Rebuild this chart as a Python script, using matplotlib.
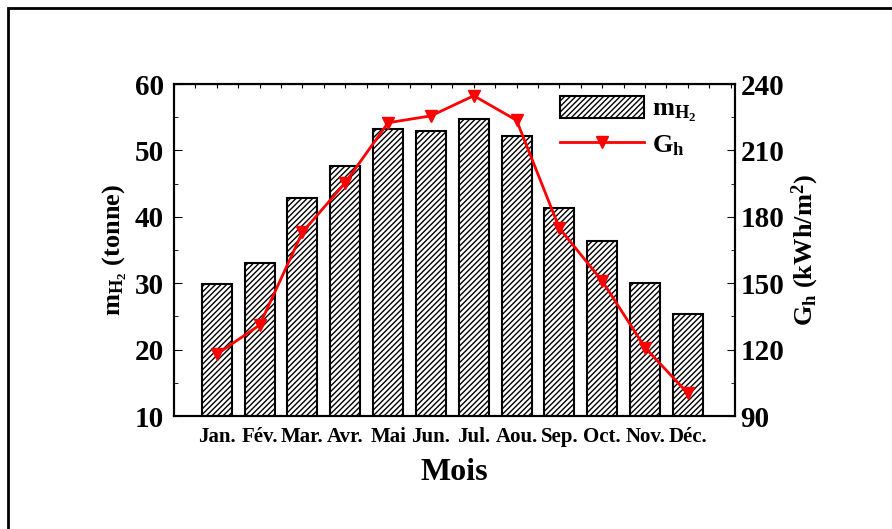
import matplotlib.pyplot as plt
from matplotlib.patches import Rectangle
from matplotlib.ticker import MultipleLocator

plt.rcParams['font.family'] = 'Liberation Serif'
plt.rcParams['font.weight'] = 'bold'
plt.rcParams['mathtext.fontset'] = 'custom'
plt.rcParams['mathtext.rm'] = 'Liberation Serif:bold'
plt.rcParams['mathtext.bf'] = 'Liberation Serif:bold'
plt.rcParams['mathtext.it'] = 'Liberation Serif:bold'
plt.rcParams['hatch.linewidth'] = 1.0

months = ["Jan.", "Fév.", "Mar.", "Avr.", "Mai", "Jun.", "Jul.", "Aou.",
          "Sep.", "Oct.", "Nov.", "Déc."]
m_h2 = [29.9, 33.1, 42.8, 47.6, 53.2, 52.9, 54.7, 52.2, 41.4, 36.4, 30.1, 25.4]
g_h = [117.9, 131.1, 173.0, 195.4, 222.5, 225.6, 234.7, 223.6, 174.8, 151.0, 120.9, 100.2]

x = list(range(len(months)))

fig = plt.figure(figsize=(8.92, 5.29), dpi=100)
ax = fig.add_axes([0.195, 0.2136, 0.629, 0.6276])

# outer frame (only left and top edges visible in the original)
fig.patches.append(Rectangle((8 / 892, -0.1), 1.2, 1 - 8 / 529 + 0.1,
                             transform=fig.transFigure, fill=False,
                             edgecolor='black', linewidth=2))

bars = ax.bar(x, m_h2, width=0.7, bottom=0, color='white', edgecolor='black',
              hatch='//////', linewidth=1.5, zorder=2)
ax.set_ylim(10, 60)
ax.set_xlim(-1.0, 12.1)
ax.set_xticks(x)
ax.set_xticklabels(months, fontsize=15, fontweight='bold')
ax.tick_params(axis='x', length=0, pad=8)
ax.yaxis.set_major_locator(MultipleLocator(10))
ax.yaxis.set_minor_locator(MultipleLocator(5))
ax.tick_params(axis='y', which='both', direction='in', labelsize=21, pad=7)
ax.tick_params(axis='y', which='major', length=6)
ax.tick_params(axis='y', which='minor', length=3)
ax.set_xlabel('Mois', fontsize=23, fontweight='bold', labelpad=8)
ax.set_ylabel(r'$\mathbf{m_{H_2}}$ (tonne)', fontsize=19, fontweight='bold', labelpad=4)

ax2 = ax.twinx()
line, = ax2.plot(x, g_h, color='red', linewidth=2, marker='v', markersize=8,
                 zorder=3)
ax2.set_ylim(90, 240)
ax2.yaxis.set_major_locator(MultipleLocator(30))
ax2.yaxis.set_minor_locator(MultipleLocator(15))
ax2.tick_params(axis='y', which='both', direction='in', labelsize=21, pad=4)
ax2.tick_params(axis='y', which='major', length=6)
ax2.tick_params(axis='y', which='minor', length=3)
ax2.set_ylabel(r'$\mathbf{G_h}$ (kWh/m$^\mathbf{2}$)', fontsize=19, fontweight='bold', labelpad=4)

# top ticks every half month
ax3 = ax.secondary_xaxis('top')
ax3.set_xticks([i * 0.5 - 1 for i in range(27)])
ax3.tick_params(direction='in', length=3, labeltop=False)
ax3.set_xticklabels([])

for a in (ax, ax2):
    for s in a.spines.values():
        s.set_linewidth(1.5)

leg = ax2.legend([bars, line], [r'$\mathbf{m_{H_2}}$', r'$\mathbf{G_h}$'],
                 loc='upper left', bbox_to_anchor=(0.655, 1.02), frameon=False,
                 fontsize=19, handlelength=3.2, handleheight=0.9,
                 labelspacing=0.3, handletextpad=0.3, borderaxespad=0.3)

fig.savefig('out.png', dpi=100)
